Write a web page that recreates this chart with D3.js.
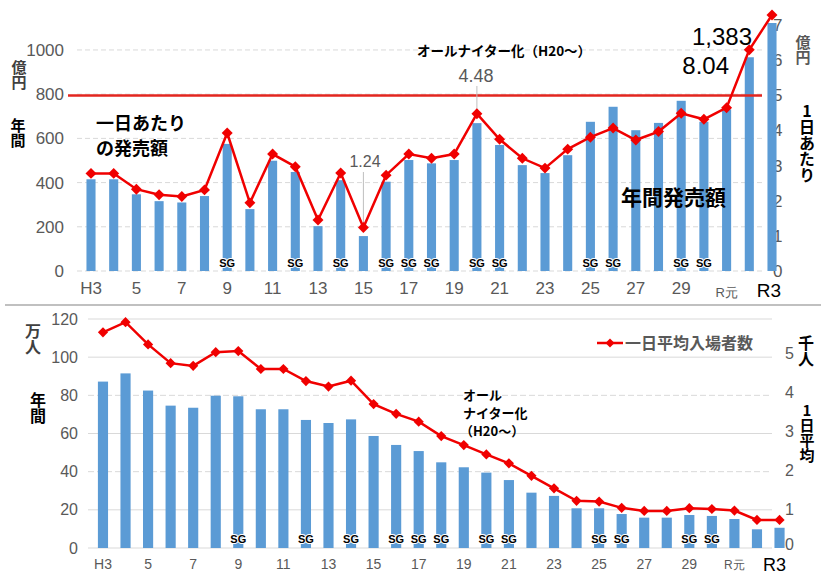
<!DOCTYPE html>
<html>
<head>
<meta charset="utf-8">
<script src="https://cdn.jsdelivr.net/npm/d3@7"></script>
<style>
body { margin: 0; background: #fff; }
svg { font-family: "Liberation Sans", Arial, sans-serif; }
.jp { font-family: "Noto Sans CJK JP", sans-serif; font-weight: bold; }
.vt { writing-mode: vertical-rl; text-orientation: upright; }
</style>
</head>
<body>
<svg width="821" height="574"></svg>
<script>
// fiscal years H3 .. R3
var years = ['H3','H4','H5','H6','H7','H8','H9','H10','H11','H12','H13','H14','H15','H16','H17','H18',
             'H19','H20','H21','H22','H23','H24','H25','H26','H27','H28','H29','H30','R元','R2','R3'];
var tickYears = ['H3','H5','H7','H9','H11','H13','H15','H17','H19','H21','H23','H25','H27','H29','R元','R3'];
var tickText  = ['H3','5','7','9','11','13','15','17','19','21','23','25','27','29','R元','R3'];
var sgYears = ['H9','H12','H14','H16','H17','H18','H20','H21','H25','H26','H29','H30'];

// 年間発売額 (億円)
var annualSales = [415,415,347,316,310,339,575,280,499,448,203,411,158,404,502,487,
                   502,669,570,479,443,524,675,743,637,670,770,675,731,967,1383];
// 一日あたりの発売額 (億円)
var dailySales = [2.78,2.78,2.33,2.17,2.12,2.31,3.93,1.94,3.33,2.97,1.45,2.79,1.24,2.73,3.33,3.21,
                  3.33,4.48,3.75,3.21,2.93,3.47,3.81,4.07,3.73,3.97,4.49,4.32,4.65,6.30,8.04];
// 年間入場者数 (万人)
var annualVisitors = [87.2,91.5,82.5,74.6,73.5,79.8,79.5,72.7,72.7,67.1,65.5,67.4,58.7,54.0,50.8,44.9,
                      42.3,39.5,35.6,29.0,27.3,20.8,20.8,17.8,15.9,15.9,17.3,16.8,15.2,9.8,10.6];
// 一日平均入場者数 (千人)
var dailyVisitors = [5.53,5.79,5.22,4.74,4.67,5.02,5.05,4.59,4.59,4.28,4.14,4.29,3.69,3.44,3.24,2.87,
                     2.64,2.40,2.17,1.85,1.53,1.21,1.19,1.03,0.95,0.95,1.02,1.00,0.96,0.72,0.72];

var topTicksL = [0,200,400,600,800,1000];
var topTicksR = [0,1,2,3,4,5,6,7];
var botTicksL = [0,20,40,60,80,100,120];
var botTicksR = [0,1,2,3,4,5];

var barColor = '#5b9bd5';
var red = '#f00000';
var gray = '#595959';
var fmt = d3.format('d');

var svg = d3.select('svg');

// vertical (tategaki) label, x = column centre, y = top
function vtext(chars, x, y0, size, fill){
  svg.append('text')
    .attr('class', 'jp vt')
    .attr('x', x)
    .attr('y', y0)
    .style('font-size', size + 'px')
    .attr('fill', fill)
    .text(chars);
}

function diamond(size){
  return d3.symbol().type(d3.symbolSquare).size(size);
}

// ---------- top panel ----------
var x1 = d3.scaleBand().domain(years).range([79.65, 783.35]).paddingInner(0.6).paddingOuter(0.3);
var y1L = d3.scaleLinear().domain([0, 1122]).range([271, 23]).clamp(true);
var y1R = d3.scaleLinear().domain([0, 7.29]).range([271, 15]).clamp(true);

var gTop = svg.append('g');

gTop.append('g')
  .selectAll('line')
  .data(topTicksL)
  .enter()
  .append('line')
    .attr('x1', 77).attr('x2', 764)
    .attr('y1', d => y1L(d)).attr('y2', d => y1L(d))
    .attr('stroke', '#d9d9d9')
    .attr('stroke-dasharray', '5,3');

gTop.append('g')
  .attr('transform', 'translate(64,0)')
  .call(d3.axisLeft(y1L).tickValues(topTicksL).tickFormat(fmt).tickSize(0).tickPadding(0))
  .call(g => g.select('.domain').remove())
  .selectAll('text')
    .attr('fill', gray)
    .style('font-size', '17px')
    .style('font-family', '"Liberation Sans", Arial, sans-serif');

gTop.append('g')
  .attr('transform', 'translate(773,0)')
  .call(d3.axisRight(y1R).tickValues(topTicksR).tickFormat(fmt).tickSize(0).tickPadding(0))
  .call(g => g.select('.domain').remove())
  .selectAll('text')
    .attr('fill', gray)
    .style('font-size', '17px')
    .style('font-family', '"Liberation Sans", Arial, sans-serif');

gTop.append('g')
  .selectAll('rect')
  .data(years)
  .enter()
  .append('rect')
    .attr('x', d => x1(d))
    .attr('width', x1.bandwidth())
    .attr('y', (d, i) => y1L(annualSales[i]))
    .attr('height', (d, i) => 271 - y1L(annualSales[i]))
    .attr('fill', barColor);

// threshold line
gTop.append('line')
  .attr('x1', 68).attr('x2', 762)
  .attr('y1', y1R(5)).attr('y2', y1R(5))
  .attr('stroke', '#e3261f')
  .attr('stroke-width', 2.5);

// leader lines
gTop.append('line')
  .attr('x1', x1('H20') + x1.bandwidth() / 2).attr('x2', x1('H20') + x1.bandwidth() / 2)
  .attr('y1', 86).attr('y2', y1R(4.48) - 4)
  .attr('stroke', '#bfbfbf');
gTop.append('line')
  .attr('x1', x1('H15') + x1.bandwidth() / 2).attr('x2', x1('H15') + x1.bandwidth() / 2)
  .attr('y1', 172).attr('y2', y1R(1.24) - 4)
  .attr('stroke', '#bfbfbf');

var line1 = d3.line()
  .x((d, i) => x1(years[i]) + x1.bandwidth() / 2)
  .y(d => y1R(d));

gTop.append('path')
  .datum(dailySales)
  .attr('d', line1)
  .attr('fill', 'none')
  .attr('stroke', red)
  .attr('stroke-width', 2.5);

gTop.append('g')
  .selectAll('path')
  .data(dailySales)
  .enter()
  .append('path')
    .attr('d', diamond(60))
    .attr('transform', (d, i) => 'translate(' + (x1(years[i]) + x1.bandwidth() / 2) + ',' + y1R(d) + ') rotate(45)')
    .attr('fill', red);

gTop.append('g')
  .selectAll('text')
  .data(sgYears)
  .enter()
  .append('text')
    .attr('x', d => x1(d) + x1.bandwidth() / 2)
    .attr('y', 267)
    .attr('text-anchor', 'middle')
    .style('font-size', '11px')
    .style('font-weight', 'bold')
    .attr('fill', '#000')
    .attr('stroke', '#fff')
    .attr('stroke-width', 2)
    .attr('paint-order', 'stroke')
    .text('SG');

gTop.append('g')
  .selectAll('text')
  .data(tickYears)
  .enter()
  .append('text')
    .attr('x', (d, i) => x1(d) + x1.bandwidth() / 2 - (tickText[i] === 'R3' ? 3 : 0))
    .attr('y', (d, i) => tickText[i] === 'R元' ? 297 : (tickText[i] === 'R3' ? 297 : 294))
    .attr('text-anchor', 'middle')
    .attr('fill', (d, i) => tickText[i] === 'R3' ? '#000' : gray)
    .style('font-size', (d, i) => tickText[i] === 'R3' ? '19px' : (tickText[i] === 'R元' ? '13px' : '17px'))
    .text((d, i) => tickText[i]);

// top annotations
svg.append('text').attr('class', 'jp').attr('x', 417).attr('y', 56)
  .style('font-size', '13.5px').text('オールナイター化（H20～）');
svg.append('text').attr('x', 476).attr('y', 82).attr('text-anchor', 'middle')
  .attr('fill', gray).style('font-size', '18px').text('4.48');
svg.append('text').attr('x', 365).attr('y', 167).attr('text-anchor', 'middle')
  .attr('fill', gray).style('font-size', '16px').text('1.24');
svg.append('text').attr('x', 752).attr('y', 45).attr('text-anchor', 'end')
  .style('font-size', '24px').text('1,383');
svg.append('text').attr('x', 729).attr('y', 74).attr('text-anchor', 'end')
  .style('font-size', '24px').text('8.04');
svg.append('text').attr('class', 'jp').attr('x', 96).attr('y', 130)
  .style('font-size', '18px').text('一日あたり');
svg.append('text').attr('class', 'jp').attr('x', 96).attr('y', 155)
  .style('font-size', '18px').text('の発売額');
svg.append('text').attr('class', 'jp').attr('x', 621).attr('y', 205)
  .style('font-size', '21px').text('年間発売額');

vtext('億円', 19, 60, 15, '#404040');
vtext('年間', 18, 118, 15, '#000');
vtext('億円', 803, 35, 15, gray);
vtext('1日あたり', 807, 103, 16, '#000');

// separator
svg.append('line')
  .attr('x1', 5).attr('x2', 821)
  .attr('y1', 305).attr('y2', 305)
  .attr('stroke', '#c0c0c0')
  .attr('stroke-width', 2);

// ---------- bottom panel ----------
var x2 = d3.scaleBand().domain(years).range([91.7, 790.8]).paddingInner(0.55).paddingOuter(0.275);
var y2L = d3.scaleLinear().domain([0, 120]).range([548, 319]);
var y2R = d3.scaleLinear().domain([0, 5]).range([548, 353]);

var gBot = svg.append('g');

gBot.append('g')
  .selectAll('line')
  .data(botTicksL)
  .enter()
  .append('line')
    .attr('x1', 88).attr('x2', 772)
    .attr('y1', d => y2L(d)).attr('y2', d => y2L(d))
    .attr('stroke', '#d9d9d9')
    .attr('stroke-dasharray', (d) => d % 40 === 0 && d > 0 && d < 100 ? '6,3' : null);

gBot.append('g')
  .attr('transform', 'translate(78,0)')
  .call(d3.axisLeft(y2L).tickValues(botTicksL).tickFormat(fmt).tickSize(0).tickPadding(0))
  .call(g => g.select('.domain').remove())
  .selectAll('text')
    .attr('fill', gray)
    .style('font-size', '16px')
    .style('font-family', '"Liberation Sans", Arial, sans-serif');

gBot.append('g')
  .attr('transform', 'translate(785,0)')
  .call(d3.axisRight(y2R).tickValues(botTicksR).tickFormat(fmt).tickSize(0).tickPadding(0))
  .call(g => g.select('.domain').remove())
  .selectAll('text')
    .attr('dy', (d) => d === 0 ? '0.1em' : '0.32em')
    .attr('fill', gray)
    .style('font-size', '16px')
    .style('font-family', '"Liberation Sans", Arial, sans-serif');

gBot.append('g')
  .selectAll('rect')
  .data(years)
  .enter()
  .append('rect')
    .attr('x', d => x2(d))
    .attr('width', x2.bandwidth())
    .attr('y', (d, i) => y2L(annualVisitors[i]))
    .attr('height', (d, i) => 548 - y2L(annualVisitors[i]))
    .attr('fill', barColor);

var line2 = d3.line()
  .x((d, i) => x2(years[i]) + x2.bandwidth() / 2)
  .y(d => y2R(d));

gBot.append('path')
  .datum(dailyVisitors)
  .attr('d', line2)
  .attr('fill', 'none')
  .attr('stroke', red)
  .attr('stroke-width', 2.5);

gBot.append('g')
  .selectAll('path')
  .data(dailyVisitors)
  .enter()
  .append('path')
    .attr('d', diamond(52))
    .attr('transform', (d, i) => 'translate(' + (x2(years[i]) + x2.bandwidth() / 2) + ',' + y2R(d) + ') rotate(45)')
    .attr('fill', red);

gBot.append('g')
  .selectAll('text')
  .data(sgYears)
  .enter()
  .append('text')
    .attr('x', d => x2(d) + x2.bandwidth() / 2)
    .attr('y', 543)
    .attr('text-anchor', 'middle')
    .style('font-size', '11px')
    .style('font-weight', 'bold')
    .attr('fill', '#000')
    .attr('stroke', '#fff')
    .attr('stroke-width', 2)
    .attr('paint-order', 'stroke')
    .text('SG');

gBot.append('g')
  .selectAll('text')
  .data(tickYears)
  .enter()
  .append('text')
    .attr('x', (d, i) => x2(d) + x2.bandwidth() / 2 - (tickText[i] === 'R3' ? 5 : 0))
    .attr('y', (d, i) => tickText[i] === 'R3' ? 571 : 569)
    .attr('text-anchor', 'middle')
    .attr('fill', (d, i) => tickText[i] === 'R3' ? '#000' : gray)
    .style('font-size', (d, i) => tickText[i] === 'R3' ? '18px' : (tickText[i] === 'R元' ? '12px' : '14px'))
    .text((d, i) => tickText[i]);

// legend
var legend = svg.append('g').attr('transform', 'translate(597,343)');
legend.append('line').attr('x1', 0).attr('x2', 26).attr('stroke', red).attr('stroke-width', 2.5);
legend.append('path').attr('d', diamond(40)).attr('transform', 'translate(13,0) rotate(45)').attr('fill', red);
legend.append('text').attr('class', 'jp').attr('x', 28).attr('y', 6)
  .attr('fill', gray).style('font-size', '16px').text('一日平均入場者数');

// bottom annotations
svg.append('text').attr('class', 'jp').attr('x', 463).attr('y', 400).style('font-size', '13px').text('オール');
svg.append('text').attr('class', 'jp').attr('x', 463).attr('y', 418).style('font-size', '13px').text('ナイター化');
svg.append('text').attr('class', 'jp').attr('x', 460).attr('y', 436).style('font-size', '13px').text('（H20～）');

vtext('万人', 33, 323, 16, '#404040');
vtext('年間', 38, 392, 16, '#000');
vtext('千人', 806, 335, 16, '#000');
vtext('1日平均', 807, 403, 15, '#000');
</script>
</body>
</html>
